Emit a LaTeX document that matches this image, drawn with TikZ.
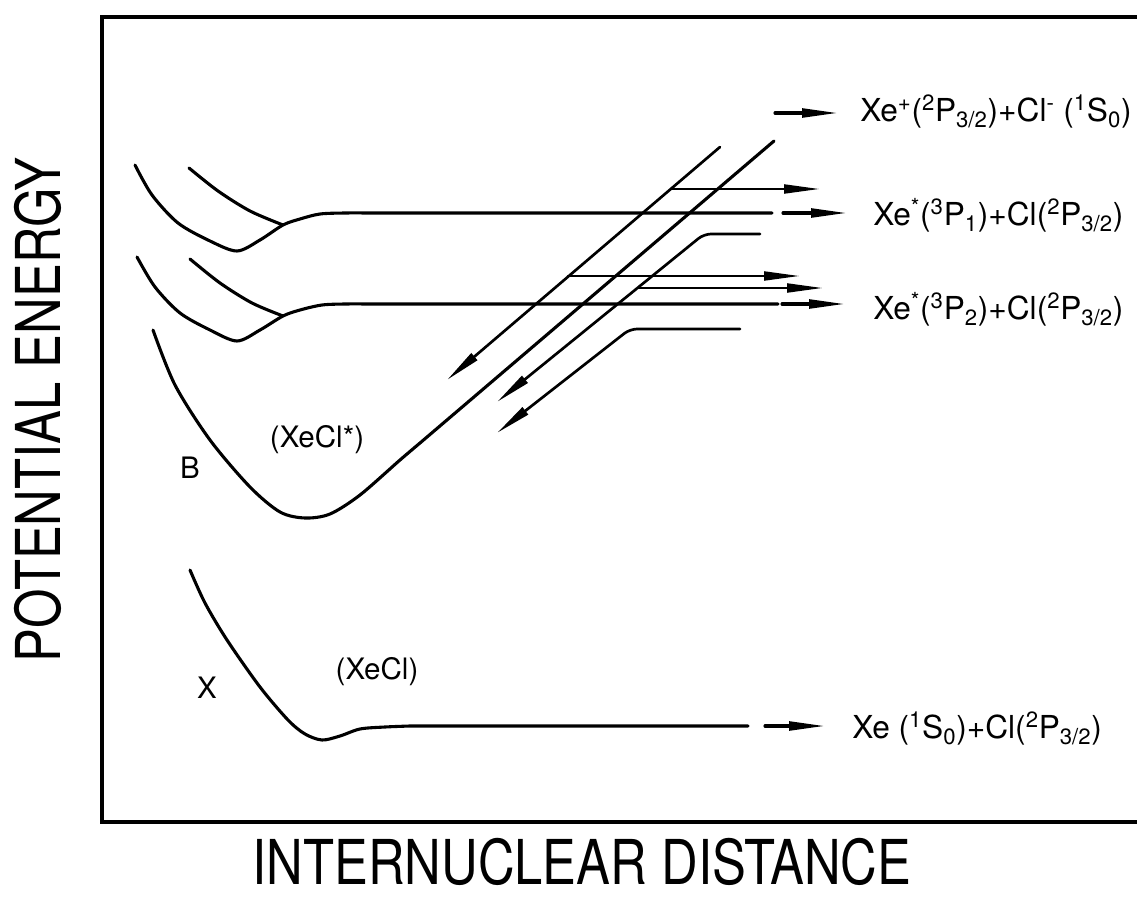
\documentclass[tikz,border=0pt]{standalone}
\usepackage{fontspec}
\setmainfont{TeX Gyre Heros}
\usepackage{graphicx}
\usetikzlibrary{arrows.meta, positioning, calc}

\newcommand{\hi}[1]{\textsuperscript{#1}}
\newcommand{\lo}[1]{\textsubscript{#1}}
\begin{document}
\begin{tikzpicture}[x=0.025cm, y=-0.025cm,
    pot/.style={line width=2.2pt, line cap=round, line join=round},
    dia/.style={line width=1.9pt, line cap=round, rounded corners=5pt},
    tip/.style={-{Triangle[length=0.9cm, width=0.22cm]}},
    lvl/.style={font=\fontsize{22.5}{27}\selectfont, anchor=base west, inner sep=0pt},
    tag/.style={font=\fontsize{21}{25}\selectfont, inner sep=0pt},
    axis/.style={font=\fontsize{44}{50}\selectfont, inner sep=0pt}]
  \useasboundingbox (0,0) rectangle (1137,899);
  \draw[line width=2.8pt] (1137,17) -- (102,17) -- (102,822) -- (1137,822);
  \node[axis] (xlab) at (582,862) {\scalebox{0.82}[1]{INTERNUCLEAR DISTANCE}};
  \node[axis, rotate=90] (ylab) at (38,410) {\scalebox{0.82}[1]{POTENTIAL ENERGY}};

  \draw[pot] plot[smooth] coordinates {(135,165) (152,195) (178,223) (210,241) (237,251) (260,240) (283,225) (300,219) (320,214) (345,213) (370,213)} -- (772,213);
  \draw[pot] plot[smooth] coordinates {(189,168) (218,191) (250,211) (283,225)};
  \draw[pot] plot[smooth] coordinates {(137,257) (155,287) (180,313) (210,330) (237,341) (260,330) (283,316) (300,310) (322,305) (345,304) (370,304)} -- (778,304);
  \draw[pot] plot[smooth] coordinates {(190,259) (220,283) (252,303) (283,316)};
  \draw[pot] plot[smooth] coordinates {(153,330) (175,385) (210,440) (250,487) (280,512) (305,518) (330,514) (360,495) (400,460) (420,443)} -- (774,141);
  \draw[pot] plot[smooth] coordinates {(190,570) (205,603) (227,640) (260,687) (288,720) (305,734) (322,740) (340,736) (360,729) (385,727) (410,726)} -- (748,726);

  \coordinate (a1) at (720,147);
  \coordinate (a2) at (447,380);
  \draw[dia, tip] (a1) -- (a2);
  \draw[dia, tip] (760,234) -- (704,234) -- (497,402);
  \draw[dia, tip] (740,329) -- (630,329) -- (497,433);
  \draw[dia, tip] (671,189) -- (820,189);
  \draw[dia, tip] (568,276) -- (800,276);
  \draw[dia, tip] (638,288) -- (823,288);

  \draw[pot, tip] (775,113) -- (838,113);
  \draw[pot, tip] (783,213) -- (847,213);
  \draw[pot, tip] (782,304) -- (845,304);
  \draw[pot, tip] (765,726) -- (825,726);

  \node[lvl] (ion) at (860,121.5) {Xe\hi{+}(\hi{2}P\lo{3/2})+Cl\hi{-} (\hi{1}S\lo{0})};
  \node[lvl] (pone) at (873,225.5) {Xe\hi{*}(\hi{3}P\lo{1})+Cl(\hi{2}P\lo{3/2})};
  \node[lvl] (ptwo) at (873,319.5) {Xe\hi{*}(\hi{3}P\lo{2})+Cl(\hi{2}P\lo{3/2})};
  \node[lvl] (gnd) at (852,738.5) {Xe (\hi{1}S\lo{0})+Cl(\hi{2}P\lo{3/2})};

  \node[tag] (bst) at (190,468) {B};
  \node[tag] (bmol) at (317,440) {(XeCl*)};
  \node[tag] (xst) at (207,688) {X};
  \node[tag] (xmol) at (377,672) {(XeCl)};
\end{tikzpicture}
\end{document}
